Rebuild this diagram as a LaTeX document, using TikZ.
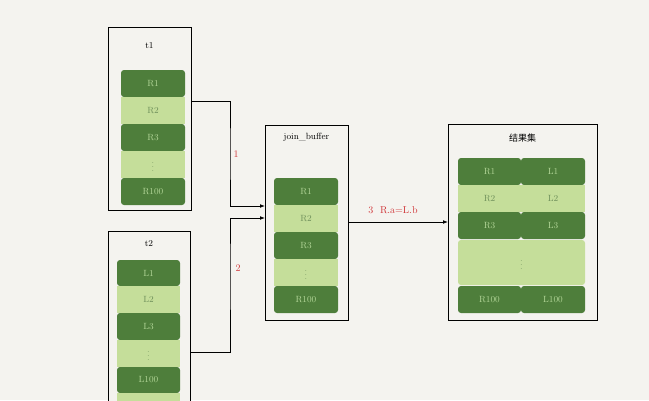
\documentclass[tikz,border=0pt]{standalone}
\usepackage{fontspec}
\newfontfamily\cjk{Noto Sans CJK SC}
\usetikzlibrary{arrows.meta}
\definecolor{bg}{HTML}{F4F3EF}
\definecolor{darkrow}{HTML}{4E7E3B}
\definecolor{lightrow}{HTML}{C5DE9A}
\definecolor{darktext}{HTML}{B5D89A}
\definecolor{lighttext}{HTML}{6E8F5A}
\definecolor{lab}{HTML}{D0373A}
\tikzstyle{Table}=[draw=black, line width=0.8pt, fill=bg]
\tikzstyle{Dark}=[fill=darkrow, rounded corners=3pt, text=darktext, font=\small, inner sep=1pt]
\tikzstyle{Light}=[fill=lightrow, text=lighttext, font=\small, inner sep=1pt]
\begin{document}
\begin{tikzpicture}[x=1pt, y=-1pt]
    \useasboundingbox[fill=bg] (0,0) rectangle (649,400);
    \clip (0,0) rectangle (649,400);

    % t1
    \draw[Table] (108,27) rectangle (191,210);
    \node (t1) at (149.5,46) {\small t1};
    \path[Dark] (121,70) rectangle (185,97) node[midway] (r1) {R1};
    \path[Light] (121,97) rectangle (185,124) node[midway] (r2) {R2};
    \path[Dark] (121,124) rectangle (185,151) node[midway] (r3) {R3};
    \path[Light] (121,151) rectangle (185,178) node[midway] (rd) {$\vdots$};
    \path[Dark] (121,178) rectangle (185,205) node[midway] (r100) {R100};
    \coordinate (t1out) at (191,101);

    % t2
    \draw[Table] (108,231) rectangle (190,420);
    \node (t2) at (149,244) {\small t2};
    \path[Dark] (117,260) rectangle (180,286) node[midway] (l1) {L1};
    \path[Light] (117,286) rectangle (180,313) node[midway] (l2) {L2};
    \path[Dark] (117,313) rectangle (180,340) node[midway] (l3) {L3};
    \path[Light] (117,340) rectangle (180,367) node[midway] (ld) {$\vdots$};
    \path[Dark] (117,367) rectangle (180,393) node[midway] (l100) {L100};
    \path[Light] (117,393) rectangle (180,415);
    \coordinate (t2out) at (190,352);

    % join_buffer
    \draw[Table] (265,125) rectangle (348,320);
    \node (jb) at (306.5,137) {\small join\_buffer};
    \path[Dark] (274,178) rectangle (338,205) node[midway] (b1) {R1};
    \path[Light] (274,205) rectangle (338,232) node[midway] (b2) {R2};
    \path[Dark] (274,232) rectangle (338,259) node[midway] (b3) {R3};
    \path[Light] (274,259) rectangle (338,286) node[midway] (bd) {$\vdots$};
    \path[Dark] (274,286) rectangle (338,313) node[midway] (b100) {R100};
    \coordinate (jbin1) at (265,206);
    \coordinate (jbin2) at (265,218);
    \coordinate (jbout) at (348,222);

    % result
    \draw[Table] (448,124) rectangle (597,320);
    \node (res) at (522.5,138) {\cjk\small 结果集};
    \path[Dark] (458,158) rectangle (521,185) node[midway] (s1) {R1};
    \path[Dark] (521,158) rectangle (585,185) node[midway] (u1) {L1};
    \path[Light] (458,185) rectangle (521,212) node[midway] (s2) {R2};
    \path[Light] (521,185) rectangle (585,212) node[midway] (u2) {L2};
    \path[Dark] (458,212) rectangle (521,239) node[midway] (s3) {R3};
    \path[Dark] (521,212) rectangle (585,239) node[midway] (u3) {L3};
    \path[Light, rounded corners=3pt] (458,240) rectangle (585,285) node[midway] (sd) {$\vdots$};
    \path[Dark] (458,286) rectangle (521,313) node[midway] (s100) {R100};
    \path[Dark] (521,286) rectangle (585,313) node[midway] (u100) {L100};
    \coordinate (resin) at (448,222);

    % connectors
    \draw[line width=0.8pt, -{Latex[length=5pt]}] (t1out) -| (230,154) |- (jbin1);
    \draw[line width=0.8pt, -{Latex[length=5pt]}] (t2out) -| (230,268) |- (jbin2);
    \draw[line width=0.8pt, -{Latex[length=5pt]}] (jbout) -- (resin);
    \node[text=lab, anchor=west] (n1) at (230,154) {1};
    \node[text=lab, anchor=west] (n2) at (232,268) {2};
    \node[text=lab] (n3) at (393,210) {3\ \ R.a=L.b};
\end{tikzpicture}
\end{document}
